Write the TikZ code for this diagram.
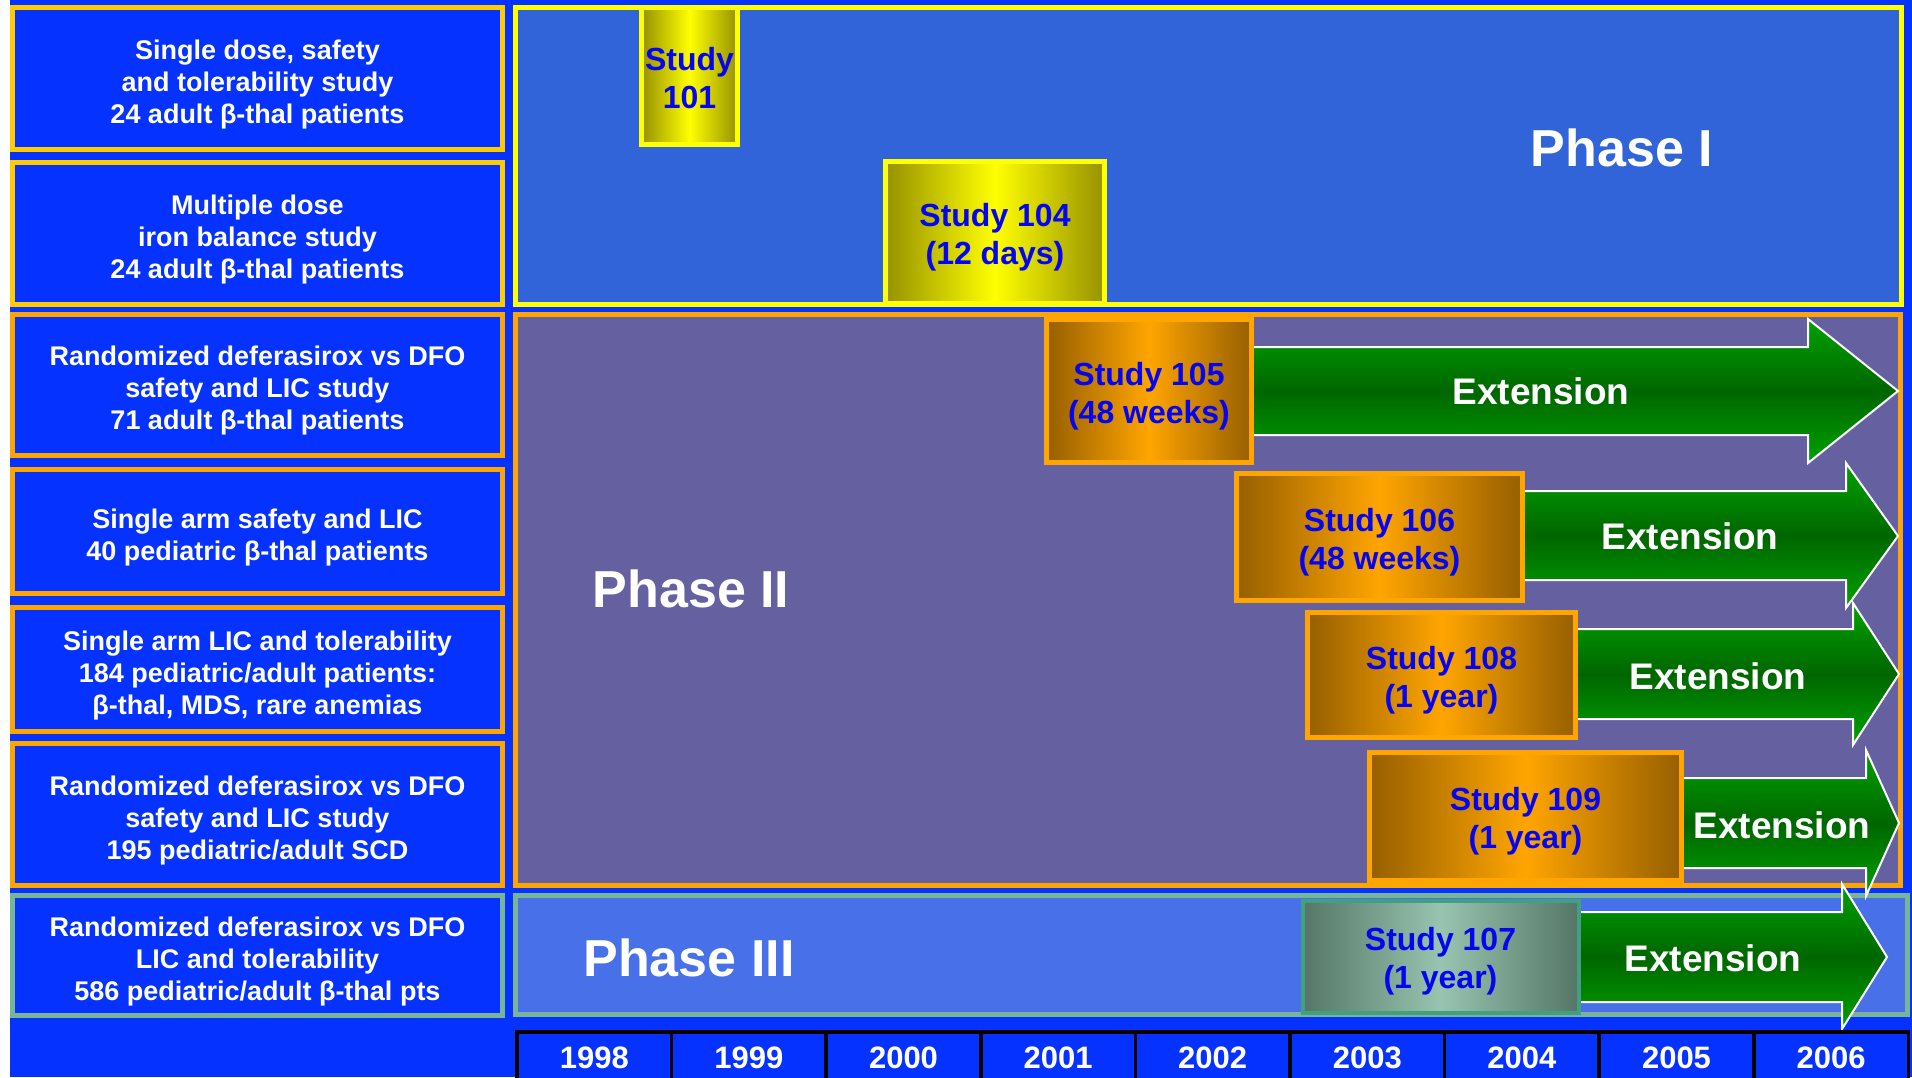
\documentclass[tikz,border=0pt]{standalone}
\usepackage{fontspec}
\setmainfont{Liberation Sans}

\definecolor{bgblue}{RGB}{5,50,255}
\definecolor{phIfill}{RGB}{48,100,216}
\definecolor{phIIfill}{RGB}{101,97,160}
\definecolor{phIIIfill}{RGB}{72,112,232}
\definecolor{goldline}{RGB}{255,204,0}
\definecolor{yelline}{RGB}{255,255,0}
\definecolor{orangeline}{RGB}{255,165,0}
\definecolor{tealline}{RGB}{120,180,152}
\definecolor{study107line}{RGB}{64,160,128}
\definecolor{oliveedge}{RGB}{150,145,0}
\definecolor{brownedge}{RGB}{150,95,0}
\definecolor{greyedge}{RGB}{85,118,102}
\definecolor{greymid}{RGB}{152,196,176}
\definecolor{studytext}{RGB}{5,5,240}
\definecolor{extlight}{RGB}{0,162,0}
\definecolor{extdark}{RGB}{0,102,0}

\begin{document}
\begin{tikzpicture}[x=1pt, y=-1pt,
  lbox/.style={draw=#1, line width=5pt, fill=bgblue, minimum width=490pt, inner sep=0pt},
  ltext/.style={align=center, text=white, font=\fontsize{27}{32}\selectfont\bfseries},
  phaselabel/.style={text=white, font=\fontsize{52}{60}\selectfont\bfseries},
  study/.style={line width=5pt, inner sep=0pt},
  studytxt/.style={align=center, text=studytext, font=\fontsize{32}{38}\selectfont\bfseries},
  ystudy/.style={study, draw=yelline, left color=oliveedge, right color=oliveedge, middle color=yelline},
  ostudy/.style={study, draw=orangeline, left color=brownedge, right color=brownedge, middle color=orangeline},
  gstudy/.style={study, line width=4pt, draw=study107line, left color=greyedge, right color=greyedge, middle color=greymid},
  extarrow/.style={draw=white, line width=2pt, top color=extlight, bottom color=extlight, middle color=extdark},
  exttext/.style={text=white, font=\fontsize{37}{44}\selectfont\bfseries},
  yearcell/.style={draw=black, line width=3.5pt, fill=bgblue},
  yeartext/.style={text=white, font=\fontsize{31}{36}\selectfont\bfseries}]

\useasboundingbox (0,0) rectangle (1912,1077);
\clip (0,0) rectangle (1912,1077);
\fill[white] (0,0) rectangle (1912,1077);
\fill[bgblue] (10,0) rectangle (1912,1077);

% phase panels
\draw[line width=5pt, draw=yelline, fill=phIfill] (515.5,7.5) rectangle (1901.5,304.5);
\draw[line width=5pt, draw=orangeline, fill=phIIfill] (515.5,314.5) rectangle (1900.5,885.5);
\draw[line width=5pt, draw=tealline, fill=phIIIfill] (515.5,895.5) rectangle (1907.5,1014);
\node[phaselabel] (ph1) at (1622,148) {Phase I};
\node[phaselabel] (ph2) at (691,589) {Phase II};
\node[phaselabel] (ph3) at (689,958) {Phase III};

% extension arrows
\draw[extarrow] (1250,347) -- (1808,347) -- (1808,319) -- (1898,391) -- (1808,463) -- (1808,435) -- (1250,435) -- cycle;
\draw[extarrow] (1520,491) -- (1846,491) -- (1846,463) -- (1898,536) -- (1846,608) -- (1846,580) -- (1520,580) -- cycle;
\draw[extarrow] (1573,629) -- (1853,629) -- (1853,603) -- (1899,674) -- (1853,745) -- (1853,719) -- (1573,719) -- cycle;
\draw[extarrow] (1680,778) -- (1866,778) -- (1866,750) -- (1899,823) -- (1866,896) -- (1866,868) -- (1680,868) -- cycle;
\draw[extarrow] (1576,912) -- (1842,912) -- (1842,884) -- (1887,957) -- (1842,1029) -- (1842,1002) -- (1576,1002) -- cycle;
\node[exttext] (e105) at (1541,391) {Extension};
\node[exttext] (e106) at (1690,536) {Extension};
\node[exttext] (e108) at (1718,676) {Extension};
\node[exttext] (e109) at (1782,825) {Extension};
\node[exttext] (e107) at (1713,958) {Extension};

% studies
\node[ystudy, minimum width=96pt, minimum height=137pt] (s101) at (689.5,76) {};
\node[ystudy, minimum width=219pt, minimum height=142pt] (s104) at (995,232.5) {};
\node[ostudy, minimum width=205pt, minimum height=143pt] (s105) at (1149,391) {};
\node[ostudy, minimum width=286pt, minimum height=127pt] (s106) at (1379.5,537) {};
\node[ostudy, minimum width=268pt, minimum height=125pt] (s108) at (1441.5,675) {};
\node[ostudy, minimum width=312pt, minimum height=128pt] (s109) at (1525.5,816.5) {};
\node[gstudy, minimum width=276pt, minimum height=112pt] (s107) at (1440.5,956.5) {};
\node[studytxt] (t101) at ([yshift=-2pt]s101.center) {Study\\101};
\node[studytxt] (t104) at ([yshift=-5pt]s104.center) {Study 104\\(12 days)};
\node[studytxt] (t105) at ([yshift=-5pt]s105.center) {Study 105\\(48 weeks)};
\node[studytxt] (t106) at ([yshift=-5pt]s106.center) {Study 106\\(48 weeks)};
\node[studytxt] (t108) at ([yshift=-5pt]s108.center) {Study 108\\(1 year)};
\node[studytxt] (t109) at ([yshift=-5pt]s109.center) {Study 109\\(1 year)};
\node[studytxt] (t107) at ([yshift=-5pt]s107.center) {Study 107\\(1 year)};

% study descriptions
\node[lbox=goldline, minimum height=142pt] (d101) at (257.5,78.5) {};
\node[lbox=goldline, minimum height=142pt] (d104) at (257.5,233.5) {};
\node[lbox=orangeline, minimum height=141pt] (d105) at (257.5,385) {};
\node[lbox=orangeline, minimum height=124pt] (d106) at (257.5,531.5) {};
\node[lbox=orangeline, minimum height=124pt] (d108) at (257.5,669.5) {};
\node[lbox=orangeline, minimum height=142pt] (d109) at (257.5,814.5) {};
\node[lbox=tealline, minimum height=120pt] (d107) at (257.5,955.5) {};
\node[ltext] (l101) at ([yshift=-6pt]d101.center) {Single dose, safety\\and tolerability study\\24 adult β-thal patients};
\node[ltext] (l104) at ([yshift=-6pt]d104.center) {Multiple dose\\iron balance study\\24 adult β-thal patients};
\node[ltext] (l105) at ([yshift=-6pt]d105.center) {Randomized deferasirox vs DFO\\safety and LIC study\\71 adult β-thal patients};
\node[ltext] (l106) at ([yshift=-6pt]d106.center) {Single arm safety and LIC\\40 pediatric β-thal patients};
\node[ltext] (l108) at ([yshift=-6pt]d108.center) {Single arm LIC and tolerability\\184 pediatric/adult patients:\\β-thal, MDS, rare anemias};
\node[ltext] (l109) at ([yshift=-6pt]d109.center) {Randomized deferasirox vs DFO\\safety and LIC study\\195 pediatric/adult SCD};
\node[ltext] (l107) at ([yshift=-6pt]d107.center) {Randomized deferasirox vs DFO\\LIC and tolerability\\586 pediatric/adult β-thal pts};

% years
\foreach \yr [count=\i from 0] in {1998,...,2006} {
  \pgfmathsetmacro\xa{517+154.6*\i}
  \draw[yearcell] (\xa,1032) rectangle ++(154.6,60);
  \node[yeartext, anchor=base] (y\yr) at (\xa+77.3,1068) {\yr};
}
\end{tikzpicture}
\end{document}
